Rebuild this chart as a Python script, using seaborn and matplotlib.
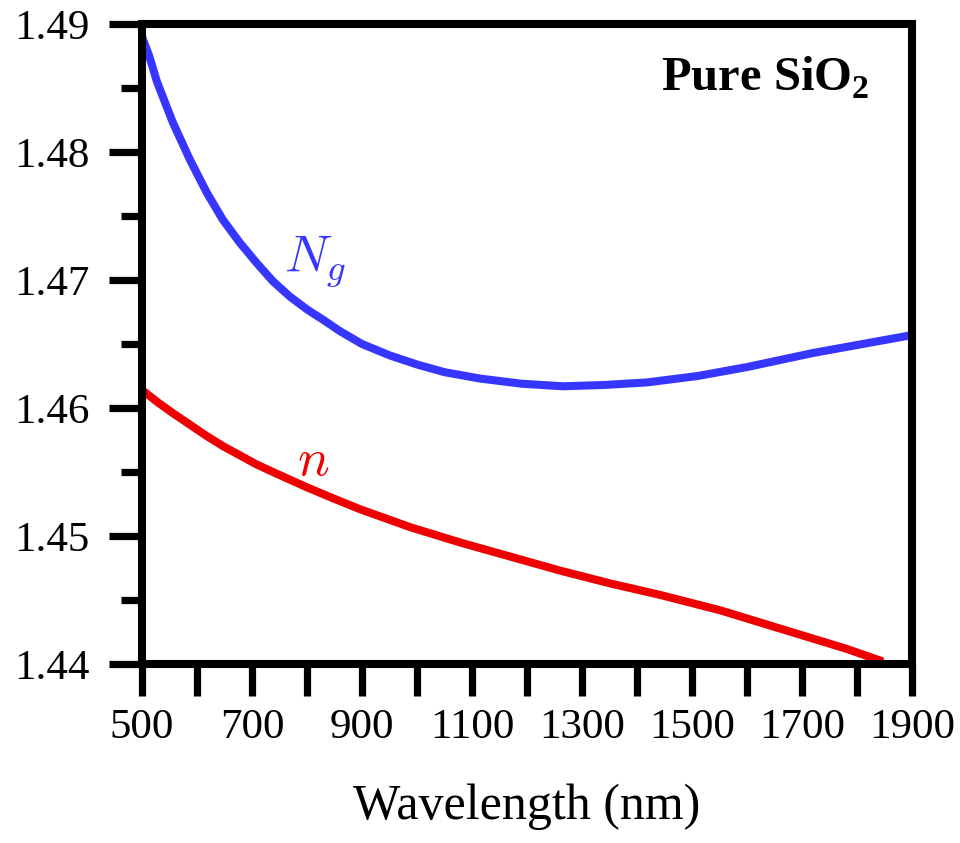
import matplotlib
matplotlib.use("Agg")
import matplotlib.pyplot as plt
from matplotlib.ticker import MultipleLocator, FixedLocator
import seaborn as sns
import pandas as pd

# Group index N_g
ng_wavelength = [500, 513, 527, 556, 587, 618, 647, 678, 709, 738, 769, 800, 829, 860, 900,
                 951, 1000, 1050, 1115, 1190, 1265, 1340, 1418, 1510, 1600, 1720, 1810, 1900]
ng_values = [1.4890, 1.4875, 1.4855, 1.4823, 1.4794, 1.4768, 1.4747, 1.4729, 1.4713, 1.4699,
             1.4687, 1.4677, 1.4669, 1.4660, 1.4650, 1.4641, 1.4634, 1.4628, 1.4623, 1.4619,
             1.4617, 1.4618, 1.4620, 1.4625, 1.4632, 1.4643, 1.4650, 1.4657]

# Refractive index n
n_wavelength = [500, 530, 556, 587, 618, 648, 678, 708, 738, 769, 800, 850, 896, 987,
                1078, 1169, 1260, 1351, 1442, 1551, 1696, 1780, 1847]
n_values = [1.4614, 1.4604, 1.4596, 1.4587, 1.4578, 1.4570, 1.4563, 1.4556, 1.4550, 1.4544,
            1.4538, 1.4529, 1.4521, 1.4507, 1.4495, 1.4484, 1.4473, 1.4463, 1.4454, 1.4442,
            1.4423, 1.4412, 1.4402]

x_ticks = [500, 700, 900, 1100, 1300, 1500, 1700, 1900]
y_ticks = [1.44, 1.45, 1.46, 1.47, 1.48, 1.49]

sns.set_theme(style="white")
plt.rcParams["font.family"] = ["Liberation Serif", "DejaVu Serif"]
plt.rcParams["text.color"] = "black"
plt.rcParams["axes.labelcolor"] = "black"
plt.rcParams["xtick.color"] = "black"
plt.rcParams["ytick.color"] = "black"
plt.rcParams["mathtext.fontset"] = "custom"
plt.rcParams["mathtext.rm"] = "Liberation Serif"
plt.rcParams["mathtext.bf"] = "Liberation Serif:bold"

df = pd.concat([
    pd.DataFrame({"wavelength": ng_wavelength, "value": ng_values, "series": "Ng"}),
    pd.DataFrame({"wavelength": n_wavelength, "value": n_values, "series": "n"}),
])

fig = plt.figure(figsize=(9.6, 8.43), dpi=100)
ax = fig.add_axes([0.148, 0.2123, 0.802, 0.7592])

sns.lineplot(data=df, x="wavelength", y="value", hue="series",
             palette={"Ng": "#3636ff", "n": "#ee0000"}, linewidth=5.8,
             legend=False, ax=ax, estimator=None, sort=True)
for line in ax.get_lines():
    line.set_solid_capstyle("butt")
    line.set_solid_joinstyle("round")

ax.set_xlim(500, 1900)
ax.set_ylim(1.44, 1.49)
ax.set_xticks(x_ticks)
ax.set_xticklabels([str(t) for t in x_ticks])
ax.xaxis.set_minor_locator(MultipleLocator(100))
ax.set_yticks(y_ticks)
ax.set_yticklabels([f"{t:.2f}" for t in y_ticks])
ax.yaxis.set_minor_locator(FixedLocator([1.445, 1.455, 1.465, 1.475, 1.485]))

for s in ax.spines.values():
    s.set_linewidth(5.8)
    s.set_color("black")
    s.set_zorder(5)

ax.tick_params(axis="x", which="both", direction="out", length=23, width=5.2,
               color="black", labelcolor="black", labelsize=31, pad=9, bottom=True, top=False)
ax.tick_params(axis="y", which="major", direction="out", length=24, width=5.2,
               color="black", labelcolor="black", labelsize=31, pad=14, left=True, right=False)
ax.tick_params(axis="y", which="minor", direction="out", length=15, width=5.2,
               color="black", left=True, right=False)

ax.set_xlabel("Wavelength (nm)", fontsize=36, labelpad=26, color="black")
ax.set_ylabel("")

ax.text(815, 1.4714, r"$N_g$", color="#3636ff", fontsize=38,
        ha="center", va="center", math_fontfamily="cm")
ax.text(811, 1.4558, r"$n$", color="#ee0000", fontsize=38,
        ha="center", va="center", math_fontfamily="cm")
ax.text(0.945, 0.915, r"Pure SiO$_\mathbf{2}$", transform=ax.transAxes,
        fontsize=35, fontweight="bold", ha="right", va="center", color="black")

ax.set_facecolor("white")
fig.patch.set_facecolor("white")
fig.savefig("out.png", dpi=100)
